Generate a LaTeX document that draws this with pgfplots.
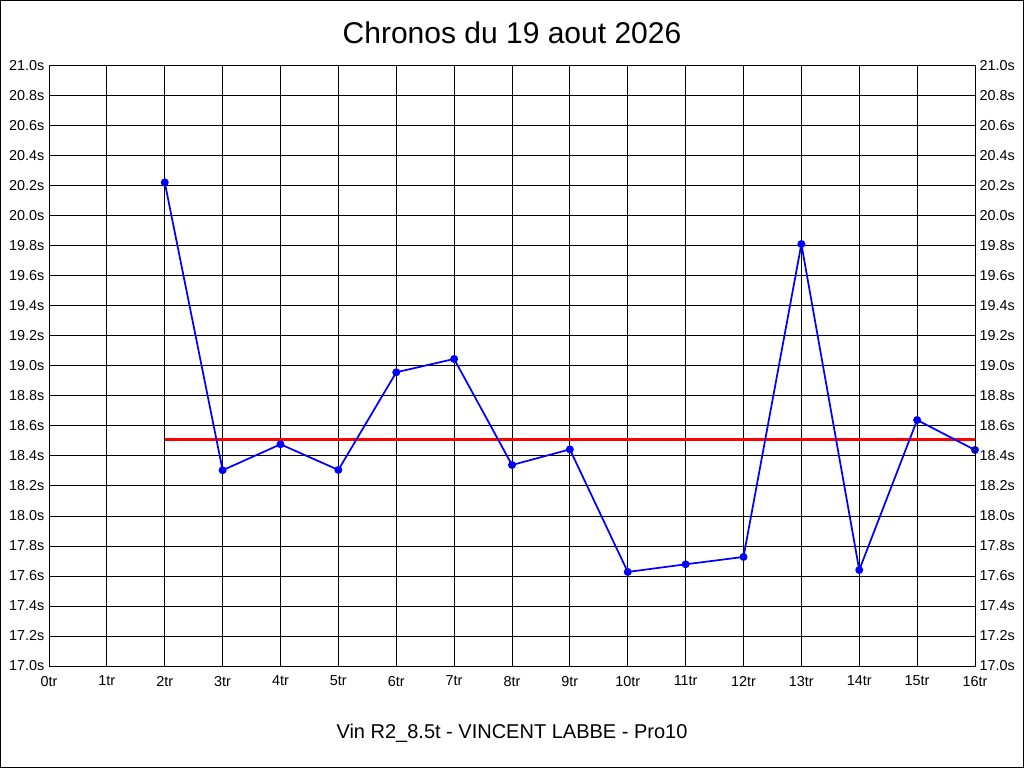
\documentclass[border=0pt]{standalone}
\usepackage{fontspec}
\setmainfont{Liberation Sans}
\usepackage{pgfplots}
\pgfplotsset{compat=1.18}
\begin{document}
\begin{tikzpicture}
\useasboundingbox (0,0) rectangle (768pt,576pt);
\draw[line width=0.75pt] (0.375pt,0.375pt) rectangle (767.625pt,575.625pt);
\pgfplotsset{
  chronos/.style={
    at={(36.75pt,76.5pt)}, anchor=south west,
    scale only axis, width=694.5pt, height=450pt,
    xmin=0, xmax=16, ymin=17, ymax=21,
    xtick={0,1,...,16},
    ytick={17,17.2,...,21.01},
    major tick length=0pt,
    axis line style={black, line width=0.75pt},
    /pgf/number format/assume math mode=true,
    tick label style={font=\fontsize{10.8pt}{12pt}\selectfont, text=black},
    yticklabel={\pgfmathprintnumber[fixed,fixed zerofill,precision=1]{\tick}s},
    xticklabel={\pgfmathprintnumber[fixed,precision=0]{\tick}tr},
    x tick label style={yshift=-4pt},
  }
}
\begin{axis}[chronos,
    grid=major,
    grid style={black, line width=0.75pt},
    ]
\addplot[red, line width=2.25pt] coordinates {(2,18.513) (16,18.513)};
\addplot[blue, line width=1.3pt, mark=*, mark size=2.3pt, mark options={fill=blue, draw=blue}] coordinates {
(2,20.224) (3,18.305) (4,18.478) (5,18.307) (6,18.958) (7,19.047)
(8,18.34) (9,18.444) (10,17.627) (11,17.678) (12,17.727) (13,19.813)
(14,17.64) (15,18.64) (16,18.44)
};
\end{axis}
\begin{axis}[chronos,
    yticklabel pos=right,
    xticklabels={},
    ]
\end{axis}
\node[font=\fontsize{22.5pt}{26pt}\selectfont] at (384pt,551.25pt) {Chronos du 19 aout 2026};
\node[font=\fontsize{15pt}{18pt}\selectfont] at (384pt,26.25pt) {Vin R2\_8.5t - VINCENT LABBE - Pro10};
\end{tikzpicture}
\end{document}
